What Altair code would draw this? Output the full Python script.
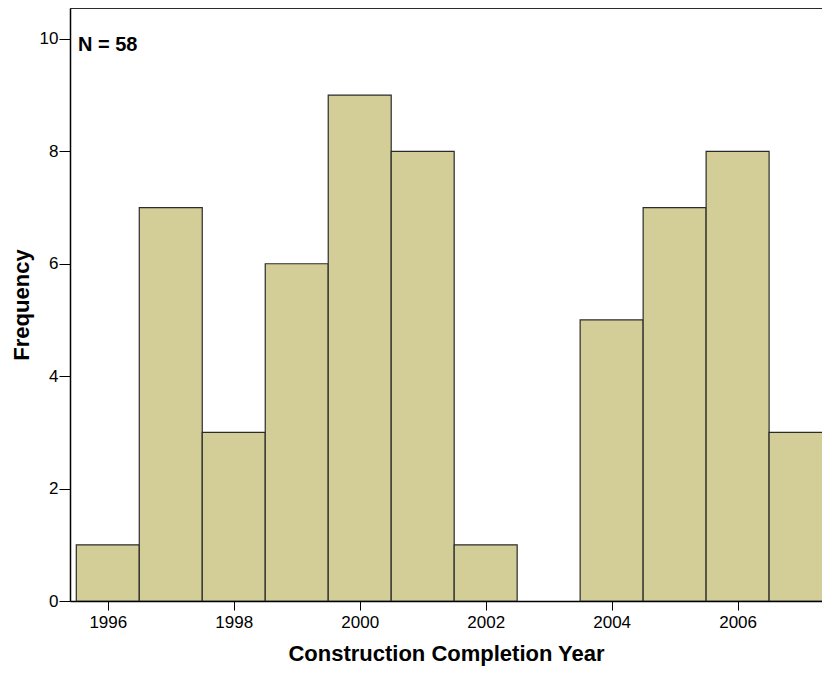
import altair as alt
import pandas as pd

years = [1996, 1997, 1998, 1999, 2000, 2001, 2002, 2003, 2004, 2005, 2006, 2007]
counts = [1, 7, 3, 6, 9, 8, 1, 0, 5, 7, 8, 3]
x_ticks = [1996, 1998, 2000, 2002, 2004, 2006]
y_ticks = [0, 2, 4, 6, 8, 10]
n_label = "N = 58"

df = pd.DataFrame({"year": years, "count": counts})

W, H = 752, 593
FONT = "Liberation Sans"

xscale = alt.Scale(domain=[1995.4, 2007.34], nice=False, zero=False)
yscale = alt.Scale(domain=[0, 10.55], nice=False)

bars = alt.Chart(df).transform_filter("datum.count > 0").transform_calculate(
    x0="datum.year - 0.5", x1="datum.year + 0.5"
).mark_bar(
    fill="#D3CE98", stroke="#2b2b2b", strokeWidth=1.2, clip=True
).encode(
    x=alt.X("x0:Q", scale=xscale, axis=alt.Axis(
        values=x_ticks, format="d", title="Construction Completion Year",
        labelFontSize=17, labelFont=FONT, labelColor="black", labelPadding=4,
        tickSize=9, tickColor="black", domainColor="black", domainWidth=1.5,
        grid=False, titleFontSize=22, titleFont=FONT, titleFontWeight="bold",
        titleColor="black", titlePadding=13)),
    x2="x1:Q",
    y=alt.Y("count:Q", scale=yscale, axis=alt.Axis(
        values=y_ticks, format="d", title="Frequency",
        labelFontSize=17, labelFont=FONT, labelColor="black", labelPadding=1,
        tickSize=11, tickColor="black", domainColor="black", domainWidth=1.5,
        grid=False, titleFontSize=22, titleFont=FONT, titleFontWeight="bold",
        titleColor="black", titlePadding=6)),
    y2=alt.datum(0),
)

top = alt.Chart(pd.DataFrame({"a": [0]})).mark_rule(
    color="#2b2b2b", strokeWidth=2
).encode(x=alt.value(0), x2=alt.value(W), y=alt.value(0))

label = alt.Chart(pd.DataFrame({"t": [n_label]})).mark_text(
    align="left", baseline="middle", font=FONT, fontSize=20,
    fontWeight="bold", color="black"
).encode(x=alt.value(8), y=alt.value(37), text="t:N")

chart = alt.layer(bars, top, label).properties(
    width=W, height=H,
    autosize=alt.AutoSizeParams(type="none"),
    padding={"left": 62, "top": 0, "right": 0, "bottom": 66},
).configure_view(fill="#F0F0F0", stroke=None).configure(background="white")

chart.save("out.html", embed_options={"renderer": "svg", "actions": False})
